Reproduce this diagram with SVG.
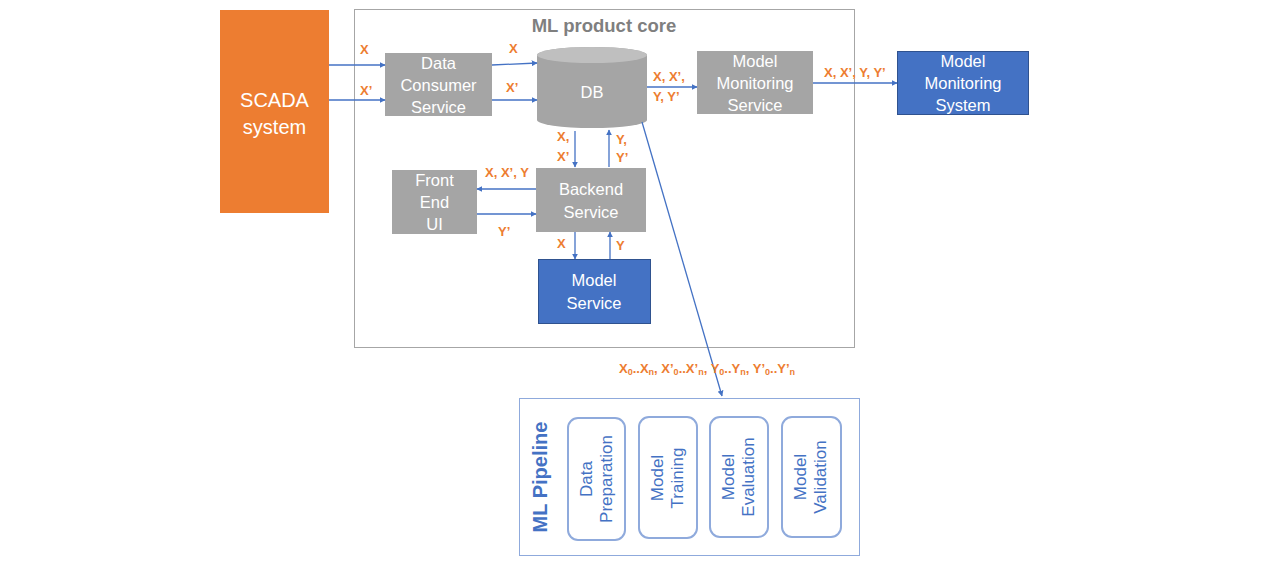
<svg xmlns="http://www.w3.org/2000/svg" width="1280" height="567" viewBox="0 0 1280 567">
<defs>
<marker id="ah" viewBox="0 0 10 10" refX="9" refY="5" markerWidth="6" markerHeight="6" markerUnits="userSpaceOnUse" orient="auto"><path d="M0,0 L10,5 L0,10 z" fill="#4472C4"/></marker>
<style>
.g{fill:#A5A5A5}
.b{fill:#4472C4;stroke:#2F528F;stroke-width:1}
.t{font-family:"Liberation Sans",Arial,sans-serif;font-size:16.5px;fill:#fff;text-anchor:middle}
.l{font-family:"Liberation Sans",Arial,sans-serif;font-size:13px;font-weight:bold;fill:#ED7D31}
.c{stroke:#4472C4;stroke-width:1.3;fill:none;marker-end:url(#ah)}
.p{fill:#fff;stroke:#8FAADC;stroke-width:2}
.pt{font-family:"Liberation Sans",Arial,sans-serif;font-size:17px;fill:#4472C4;text-anchor:middle}
</style>
</defs>
<rect width="1280" height="567" fill="#fff"/>
<g id="core">
<rect x="354.5" y="9.5" width="500" height="338" fill="none" stroke="#A6A6A6" stroke-width="1"/>
<text x="604" y="32" style="font-family:'Liberation Sans',Arial,sans-serif;font-size:18.5px;font-weight:bold;fill:#7F7F7F;text-anchor:middle">ML product core</text>
</g>
<g id="scada">
<rect x="220" y="10" width="109" height="203" fill="#ED7D31"/>
<text class="t" x="274.5" y="107" style="font-size:20px">SCADA</text>
<text class="t" x="274.5" y="134" style="font-size:20px">system</text>
</g>
<g id="dcs">
<rect class="g" x="385" y="53" width="107" height="63"/>
<text class="t" x="438.5" y="69">Data</text>
<text class="t" x="438.5" y="91">Consumer</text>
<text class="t" x="438.5" y="113">Service</text>
</g>
<g id="db">
<path d="M537,55 L537,120 A55,8 0 0 0 647,120 L647,55 A55,8 0 0 0 537,55 Z" fill="#A5A5A5"/>
<ellipse cx="592" cy="55" rx="55" ry="8" fill="#BFBFBF"/>
<text class="t" x="592" y="98">DB</text>
</g>
<g id="mms">
<rect class="g" x="697" y="51" width="116" height="63"/>
<text class="t" x="755" y="67">Model</text>
<text class="t" x="755" y="89">Monitoring</text>
<text class="t" x="755" y="111">Service</text>
</g>
<g id="mmsys">
<rect class="b" x="897.5" y="51.5" width="131" height="63"/>
<text class="t" x="963" y="67">Model</text>
<text class="t" x="963" y="89">Monitoring</text>
<text class="t" x="963" y="111">System</text>
</g>
<g id="backend">
<rect class="g" x="536" y="168" width="110" height="64"/>
<text class="t" x="591" y="195">Backend</text>
<text class="t" x="591" y="218">Service</text>
</g>
<g id="frontend">
<rect class="g" x="392" y="170" width="85" height="64"/>
<text class="t" x="434.5" y="186">Front</text>
<text class="t" x="434.5" y="208">End</text>
<text class="t" x="434.5" y="230">UI</text>
</g>
<g id="model">
<rect class="b" x="538.5" y="259.5" width="112" height="64"/>
<text class="t" x="594" y="286">Model</text>
<text class="t" x="594" y="309">Service</text>
</g>
<g id="pipeline">
<rect x="519.5" y="398.5" width="340" height="157" fill="#fff" stroke="#8FAADC" stroke-width="1"/>
<text transform="translate(547,477) rotate(-90)" style="font-family:'Liberation Sans',Arial,sans-serif;font-size:20px;font-weight:bold;fill:#4472C4;text-anchor:middle">ML Pipeline</text>
<g id="prep"><rect class="p" x="568" y="418" width="57" height="122" rx="10"/>
<text class="pt" transform="translate(592,479) rotate(-90)">Data</text>
<text class="pt" transform="translate(612,479) rotate(-90)">Preparation</text></g>
<g id="train"><rect class="p" x="639" y="417" width="58" height="121" rx="10"/>
<text class="pt" transform="translate(663,478) rotate(-90)">Model</text>
<text class="pt" transform="translate(683,478) rotate(-90)">Training</text></g>
<g id="eval"><rect class="p" x="710" y="417" width="58" height="120" rx="10"/>
<text class="pt" transform="translate(734,477) rotate(-90)">Model</text>
<text class="pt" transform="translate(754,477) rotate(-90)">Evaluation</text></g>
<g id="valid"><rect class="p" x="782" y="417" width="59" height="120" rx="10"/>
<text class="pt" transform="translate(806,477) rotate(-90)">Model</text>
<text class="pt" transform="translate(826,477) rotate(-90)">Validation</text></g>
</g>
<g id="connectors">
<path class="c" d="M329,65 L385,65"/>
<path class="c" d="M329,100 L385,100"/>
<path class="c" d="M492,65 L537,63"/>
<path class="c" d="M492,100 L537,100"/>
<path class="c" d="M647,87 L697,87"/>
<path class="c" d="M813,83 L897,83"/>
<path class="c" d="M575,131 L575,167"/>
<path class="c" d="M609,167 L609,130"/>
<path class="c" d="M536,189 L477,189"/>
<path class="c" d="M477,214 L536,214"/>
<path class="c" d="M575,232 L575,259"/>
<path class="c" d="M610,259 L610,232"/>
<path class="c" d="M642,122 L722,396"/>
</g>
<g id="labels">
<text class="l" x="360" y="54">X</text>
<text class="l" x="360" y="95">X’</text>
<text class="l" x="509" y="53">X</text>
<text class="l" x="506" y="92">X’</text>
<text class="l" x="653" y="81">X, X’,</text>
<text class="l" x="653" y="101">Y, Y’</text>
<text class="l" x="824" y="77">X, X’, Y, Y’</text>
<text class="l" x="557" y="141">X,</text>
<text class="l" x="557" y="161">X’</text>
<text class="l" x="616" y="144">Y,</text>
<text class="l" x="616" y="162">Y’</text>
<text class="l" x="485" y="177">X, X’, Y</text>
<text class="l" x="498" y="236">Y’</text>
<text class="l" x="557" y="248">X</text>
<text class="l" x="616" y="250">Y</text>
<text class="l" x="619" y="373">X<tspan font-size="9" dy="2">0</tspan><tspan dy="-2">..X</tspan><tspan font-size="9" dy="2">n</tspan><tspan dy="-2">, X’</tspan><tspan font-size="9" dy="2">0</tspan><tspan dy="-2">..X’</tspan><tspan font-size="9" dy="2">n</tspan><tspan dy="-2">, Y</tspan><tspan font-size="9" dy="2">0</tspan><tspan dy="-2">..Y</tspan><tspan font-size="9" dy="2">n</tspan><tspan dy="-2">, Y’</tspan><tspan font-size="9" dy="2">0</tspan><tspan dy="-2">..Y’</tspan><tspan font-size="9" dy="2">n</tspan></text>
</g>
</svg>
